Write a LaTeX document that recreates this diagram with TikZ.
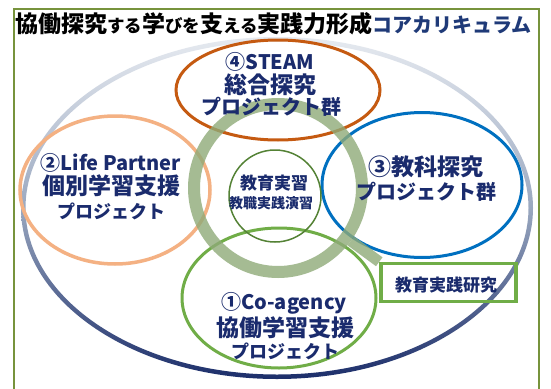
\documentclass[tikz,border=0pt]{standalone}
\usepackage{fontspec}
\setmainfont{Noto Sans CJK JP}
\usetikzlibrary{shapes.geometric}
\definecolor{navy}{HTML}{1A2B6D}
\definecolor{titlenavy}{HTML}{1F3A78}
\definecolor{framegreen}{HTML}{77933C}
\definecolor{steamc}{HTML}{C55A11}
\definecolor{peach}{HTML}{F4B183}
\definecolor{bluec}{HTML}{0070C0}
\definecolor{greenc}{HTML}{70AD47}
\definecolor{ringc}{HTML}{8FAA78}
\definecolor{innerc}{HTML}{548235}
\definecolor{outerTop}{HTML}{E6EAF0}
\definecolor{outerMid}{HTML}{9AA8C0}
\definecolor{outerBot}{HTML}{1C2E6A}
\tikzset{
  oval/.style={ellipse, inner sep=0pt, minimum width=#1},
  lbl/.style={inner sep=0pt, anchor=center, text=navy, font=\bfseries},
}
\newcommand{\fs}[1]{\fontsize{#1}{#1}\selectfont}
\begin{document}
\begin{tikzpicture}[x=1pt,y=-1pt]
\useasboundingbox (0,0) rectangle (551,388);
\fill[white] (0,0) rectangle (551,388);
% frame
\draw[framegreen, line width=1.2pt] (14,9) rectangle (539,400);
% title
\node[inner sep=0pt, anchor=center, font=\bfseries] (title) at (273.5,24)
  {\fs{23}協働探究\fs{17.5}する\fs{23}学\fs{17.5}びを\fs{23}支\fs{17.5}える\fs{23}実践力形成\textcolor{titlenavy}{\fs{20}コアカリキュラム}};
% outer ellipse with gradient stroke
\shade[top color=outerTop, bottom color=outerBot, middle color=outerMid, even odd rule]
  (277,208) ellipse [x radius=256, y radius=171]
  (277,208) ellipse [x radius=251.5, y radius=166.5];
\coordinate (outerc) at (277,208);
% project ellipses
\node[oval=190pt, minimum height=148pt, draw=peach, line width=3.5pt] (life) at (115,190) {};
\node[oval=204pt, minimum height=100pt, draw=steamc, line width=3pt] (steam) at (278,90) {};
\node[oval=200pt, minimum height=145pt, draw=bluec, line width=3pt] (kyoka) at (422,185) {};
\node[oval=194pt, minimum height=140pt, draw=greenc, line width=3pt] (coag) at (279,298) {};
% magnifier ring and handle
\node[circle, inner sep=0pt, minimum size=168pt, draw=ringc, draw opacity=0.8, line width=12pt] (ring) at (278,188) {};
\node[draw=greenc, line width=3.5pt, minimum width=135pt, minimum height=38pt, inner sep=0pt] (box) at (448.5,282.5) {};
\draw[ringc, draw opacity=0.8, line width=11pt] (ring.-36) -- (box.north west);
% inner circle
\node[circle, inner sep=0pt, minimum size=92pt, draw=innerc, line width=1.5pt] (inner) at (275,196) {};
% labels
\node[lbl] (s1) at (270,62) {\fs{20}④STEAM};
\node[lbl] (s2) at (270,85) {\fs{23}総合探究};
\node[lbl] (s3) at (271,107) {\fs{20}プロジェクト群};
\node[lbl] (l1) at (111,163) {\fs{20}②Life Partner};
\node[lbl] (l2) at (111,186) {\fs{23}個別学習支援};
\node[lbl] (l3) at (111,211) {\fs{18}プロジェクト};
\node[lbl] (k1) at (426,167) {\fs{23}③教科探究};
\node[lbl] (k2) at (426,192) {\fs{20}プロジェクト群};
\node[lbl] (c1) at (284,303) {\fs{20}①Co-agency};
\node[lbl] (c2) at (285,328) {\fs{23}協働学習支援};
\node[lbl] (c3) at (285,351) {\fs{18}プロジェクト};
\node[lbl] (i1) at (274,183) {\fs{17}教育実習};
\node[lbl] (i2) at (271,203) {\fs{14}教職実践演習};
\node[lbl] (b1) at (446,285) {\fs{17}教育実践研究};
\end{tikzpicture}
\end{document}
